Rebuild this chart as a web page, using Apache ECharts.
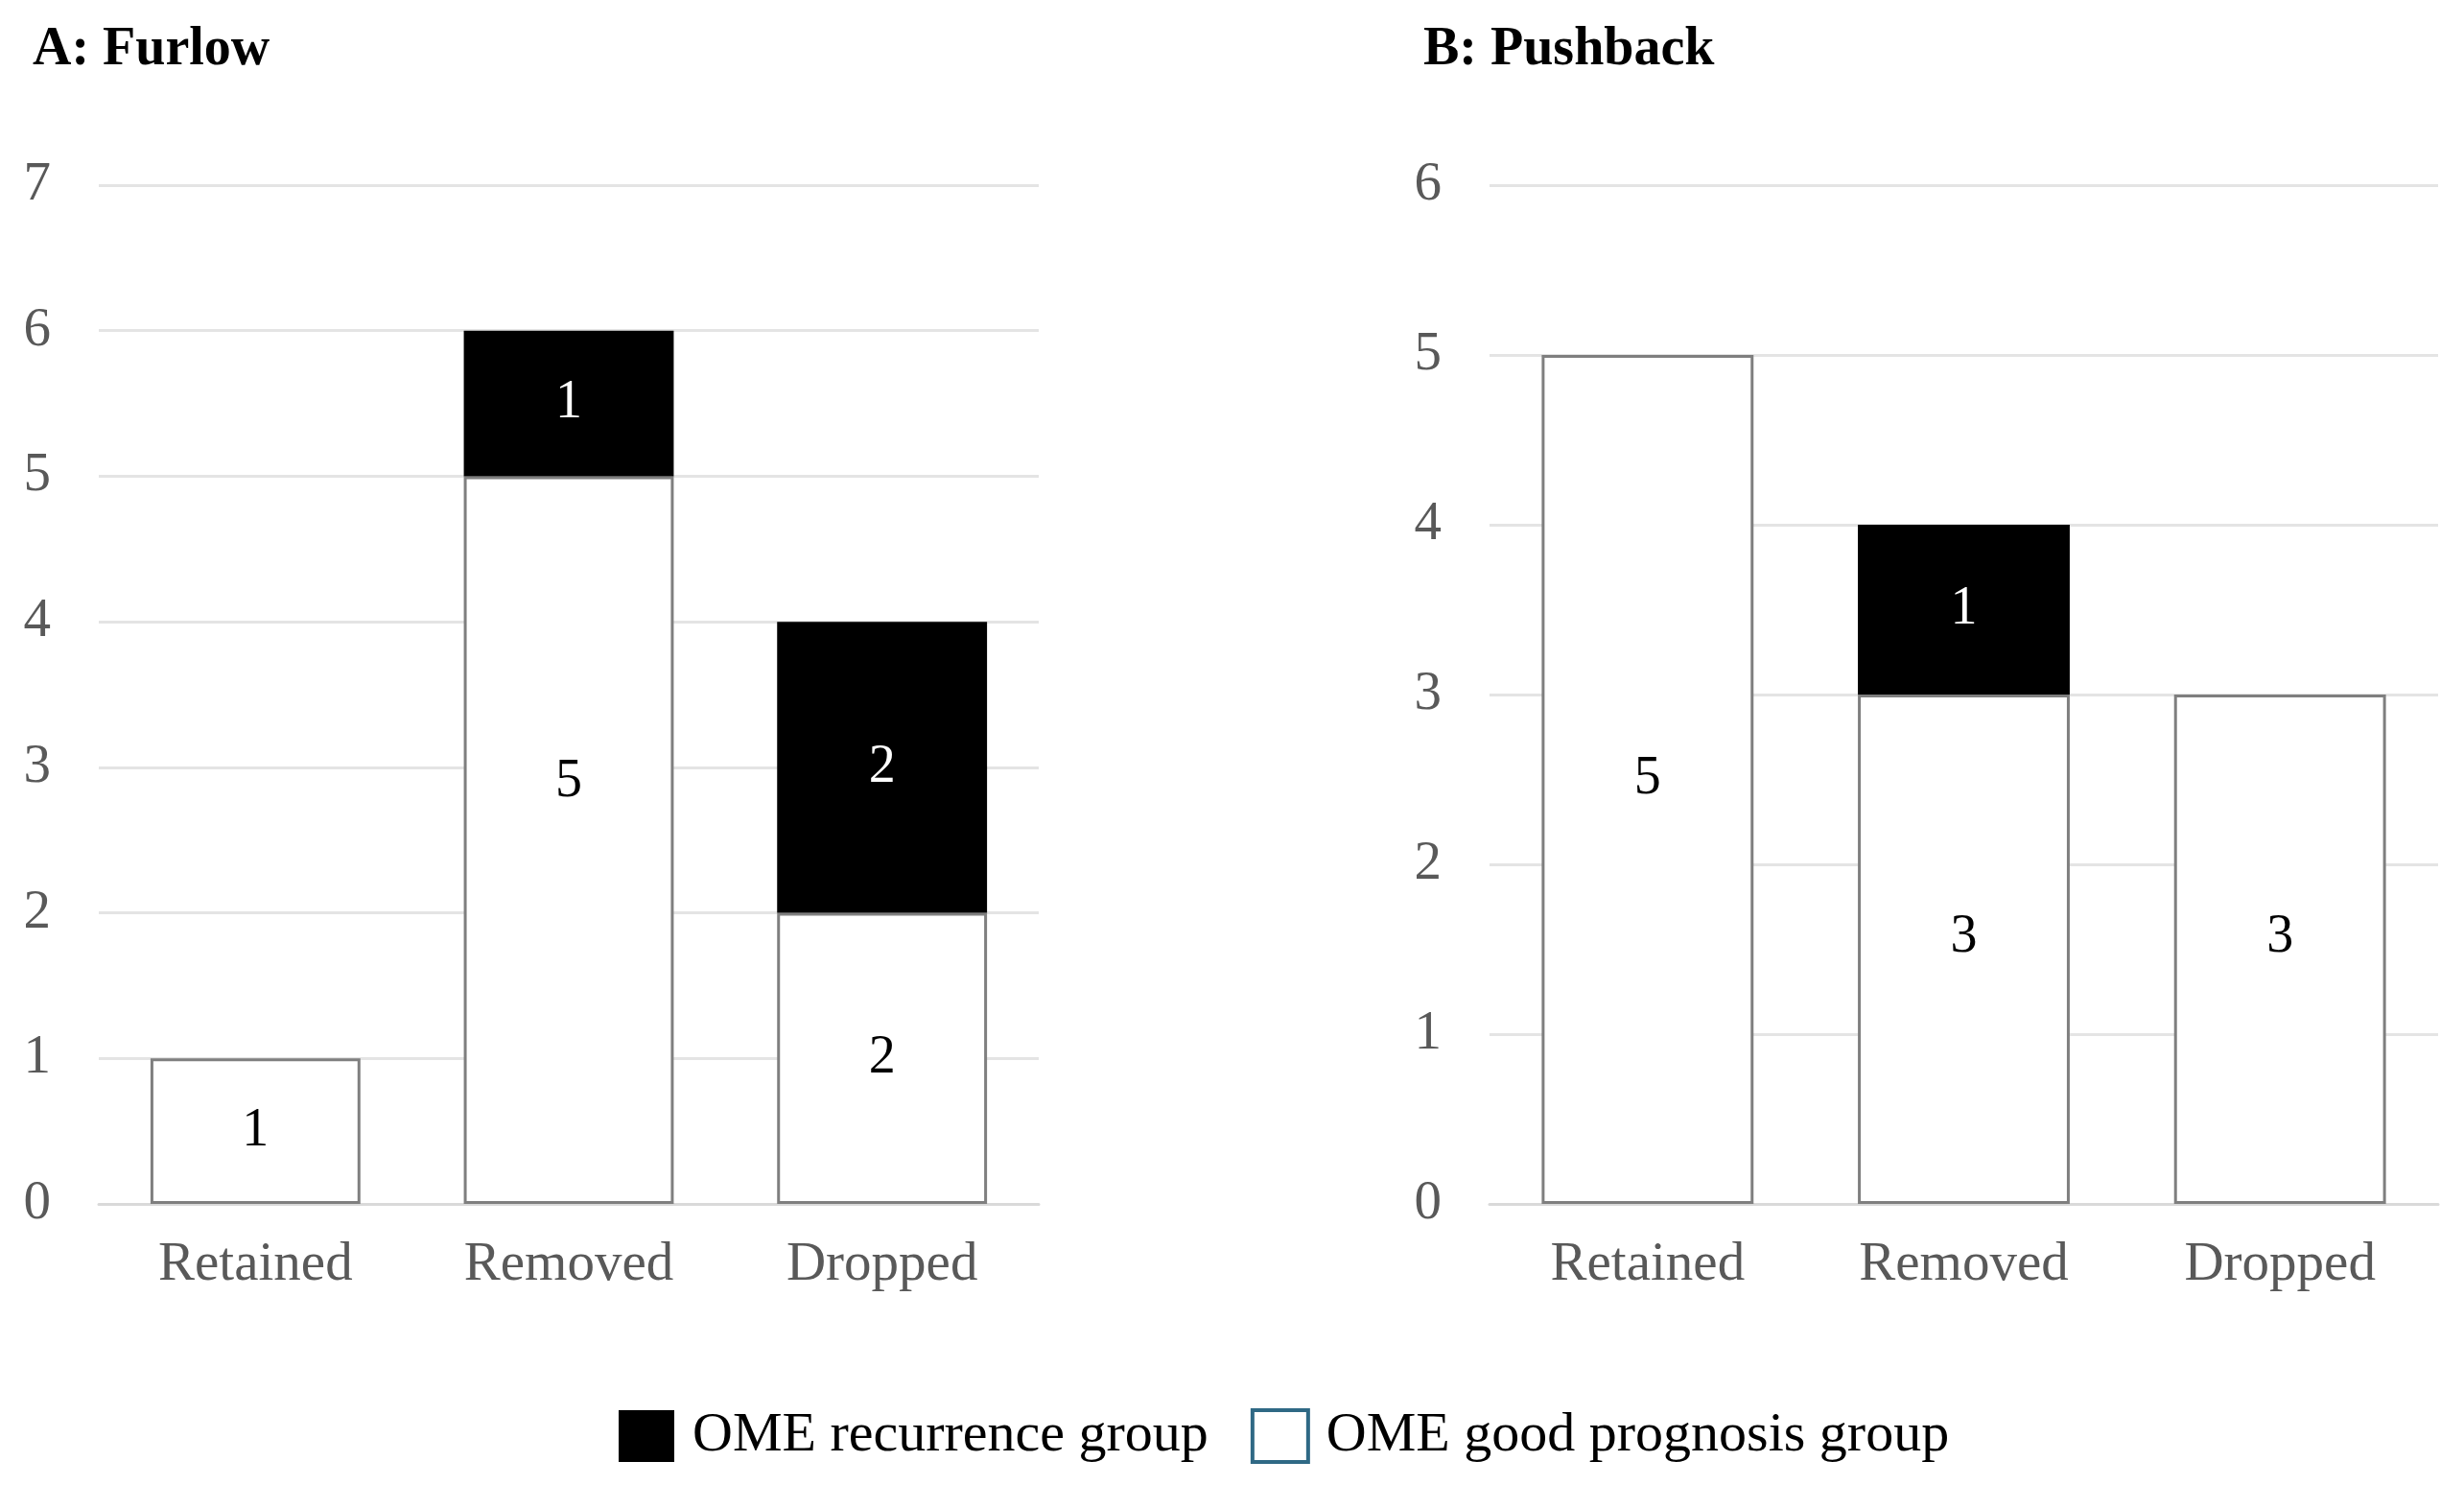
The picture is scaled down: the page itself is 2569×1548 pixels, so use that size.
<!DOCTYPE html>
<html>
<head>
<meta charset="utf-8">
<script src="https://cdn.jsdelivr.net/npm/echarts@6/dist/echarts.min.js"></script>
<style>
html,body{margin:0;padding:0;background:#fff;}
#chart{width:2569px;height:1548px;}
</style>
</head>
<body>
<div id="chart"></div>
<script>
const categories = ['Retained', 'Removed', 'Dropped'];
const furlowGood = [1, 5, 2];
const furlowRecurrence = [null, 1, 2];
const pushbackGood = [5, 3, 3];
const pushbackRecurrence = [null, 1, null];
const furlowTicks = { min: 0, max: 7, interval: 1 };
const pushbackTicks = { min: 0, max: 6, interval: 1 };
const panelTitles = ['A: Furlow', 'B: Pushback'];
const seriesNames = ['OME recurrence group', 'OME good prognosis group'];

const FONT = '"Liberation Serif", "Times New Roman", serif';
const chart = echarts.init(document.getElementById('chart'));

function xAxis(idx) {
  return {
    type: 'category', gridIndex: idx, data: categories,
    axisLine: { show: true, lineStyle: { color: '#d9d9d9', width: 3 } },
    axisTick: { show: false },
    axisLabel: { color: '#595959', fontSize: 57, fontFamily: FONT, margin: 36 }
  };
}
function yAxis(idx, t) {
  return {
    type: 'value', gridIndex: idx, min: t.min, max: t.max, interval: t.interval,
    axisLine: { show: false }, axisTick: { show: false },
    axisLabel: { color: '#595959', fontSize: 57, fontFamily: FONT, margin: 50, padding: [8, 0, 0, 0] },
    splitLine: { lineStyle: { color: '#e4e4e4', width: 3 } }
  };
}
function goodSeries(idx, data, offsets) {
  return {
    type: 'bar', name: seriesNames[1], xAxisIndex: idx, yAxisIndex: idx, stack: 's' + idx,
    barCategoryGap: '33%',
    data: data.map((v, i) => offsets && offsets[i] ? { value: v, label: { offset: offsets[i] } } : v),
    itemStyle: { color: '#ffffff', borderColor: '#7f7f7f', borderWidth: 3 },
    label: { show: true, position: 'inside', color: '#000', fontSize: 56, fontFamily: FONT }
  };
}
function recSeries(idx, data) {
  return {
    type: 'bar', name: seriesNames[0], xAxisIndex: idx, yAxisIndex: idx, stack: 's' + idx,
    barCategoryGap: '33%',
    data: data,
    itemStyle: { color: '#000000' },
    label: { show: true, position: 'inside', color: '#fff', fontSize: 56, fontFamily: FONT }
  };
}

chart.setOption({
  backgroundColor: '#fff',
  animation: false,
  title: [
    { text: panelTitles[0], left: 29, top: 20, textStyle: { fontFamily: FONT, fontWeight: 'bold', fontSize: 56, color: '#000' } },
    { text: panelTitles[1], left: 1479, top: 20, textStyle: { fontFamily: FONT, fontWeight: 'bold', fontSize: 56, color: '#000' } }
  ],
  legend: {
    left: 640, top: 1463, icon: 'rect', itemWidth: 58, itemHeight: 54, itemGap: 44,
    textStyle: { fontFamily: FONT, fontSize: 58, color: '#000', padding: [0, 0, 0, 14] },
    data: [
      { name: seriesNames[0], itemStyle: { color: '#000', borderWidth: 0 } },
      { name: seriesNames[1], itemStyle: { color: '#fff', borderColor: '#2f6985', borderWidth: 4 } }
    ]
  },
  grid: [
    { left: 103, width: 980, top: 193, height: 1062 },
    { left: 1553, width: 989, top: 193, height: 1062 }
  ],
  xAxis: [xAxis(0), xAxis(1)],
  yAxis: [yAxis(0, furlowTicks), yAxis(1, pushbackTicks)],
  series: [
    goodSeries(0, furlowGood, [null, [0, -60], null]),
    recSeries(0, furlowRecurrence),
    goodSeries(1, pushbackGood, [null, [0, -12], [0, -12]]),
    recSeries(1, pushbackRecurrence)
  ]
});
</script>
</body>
</html>
